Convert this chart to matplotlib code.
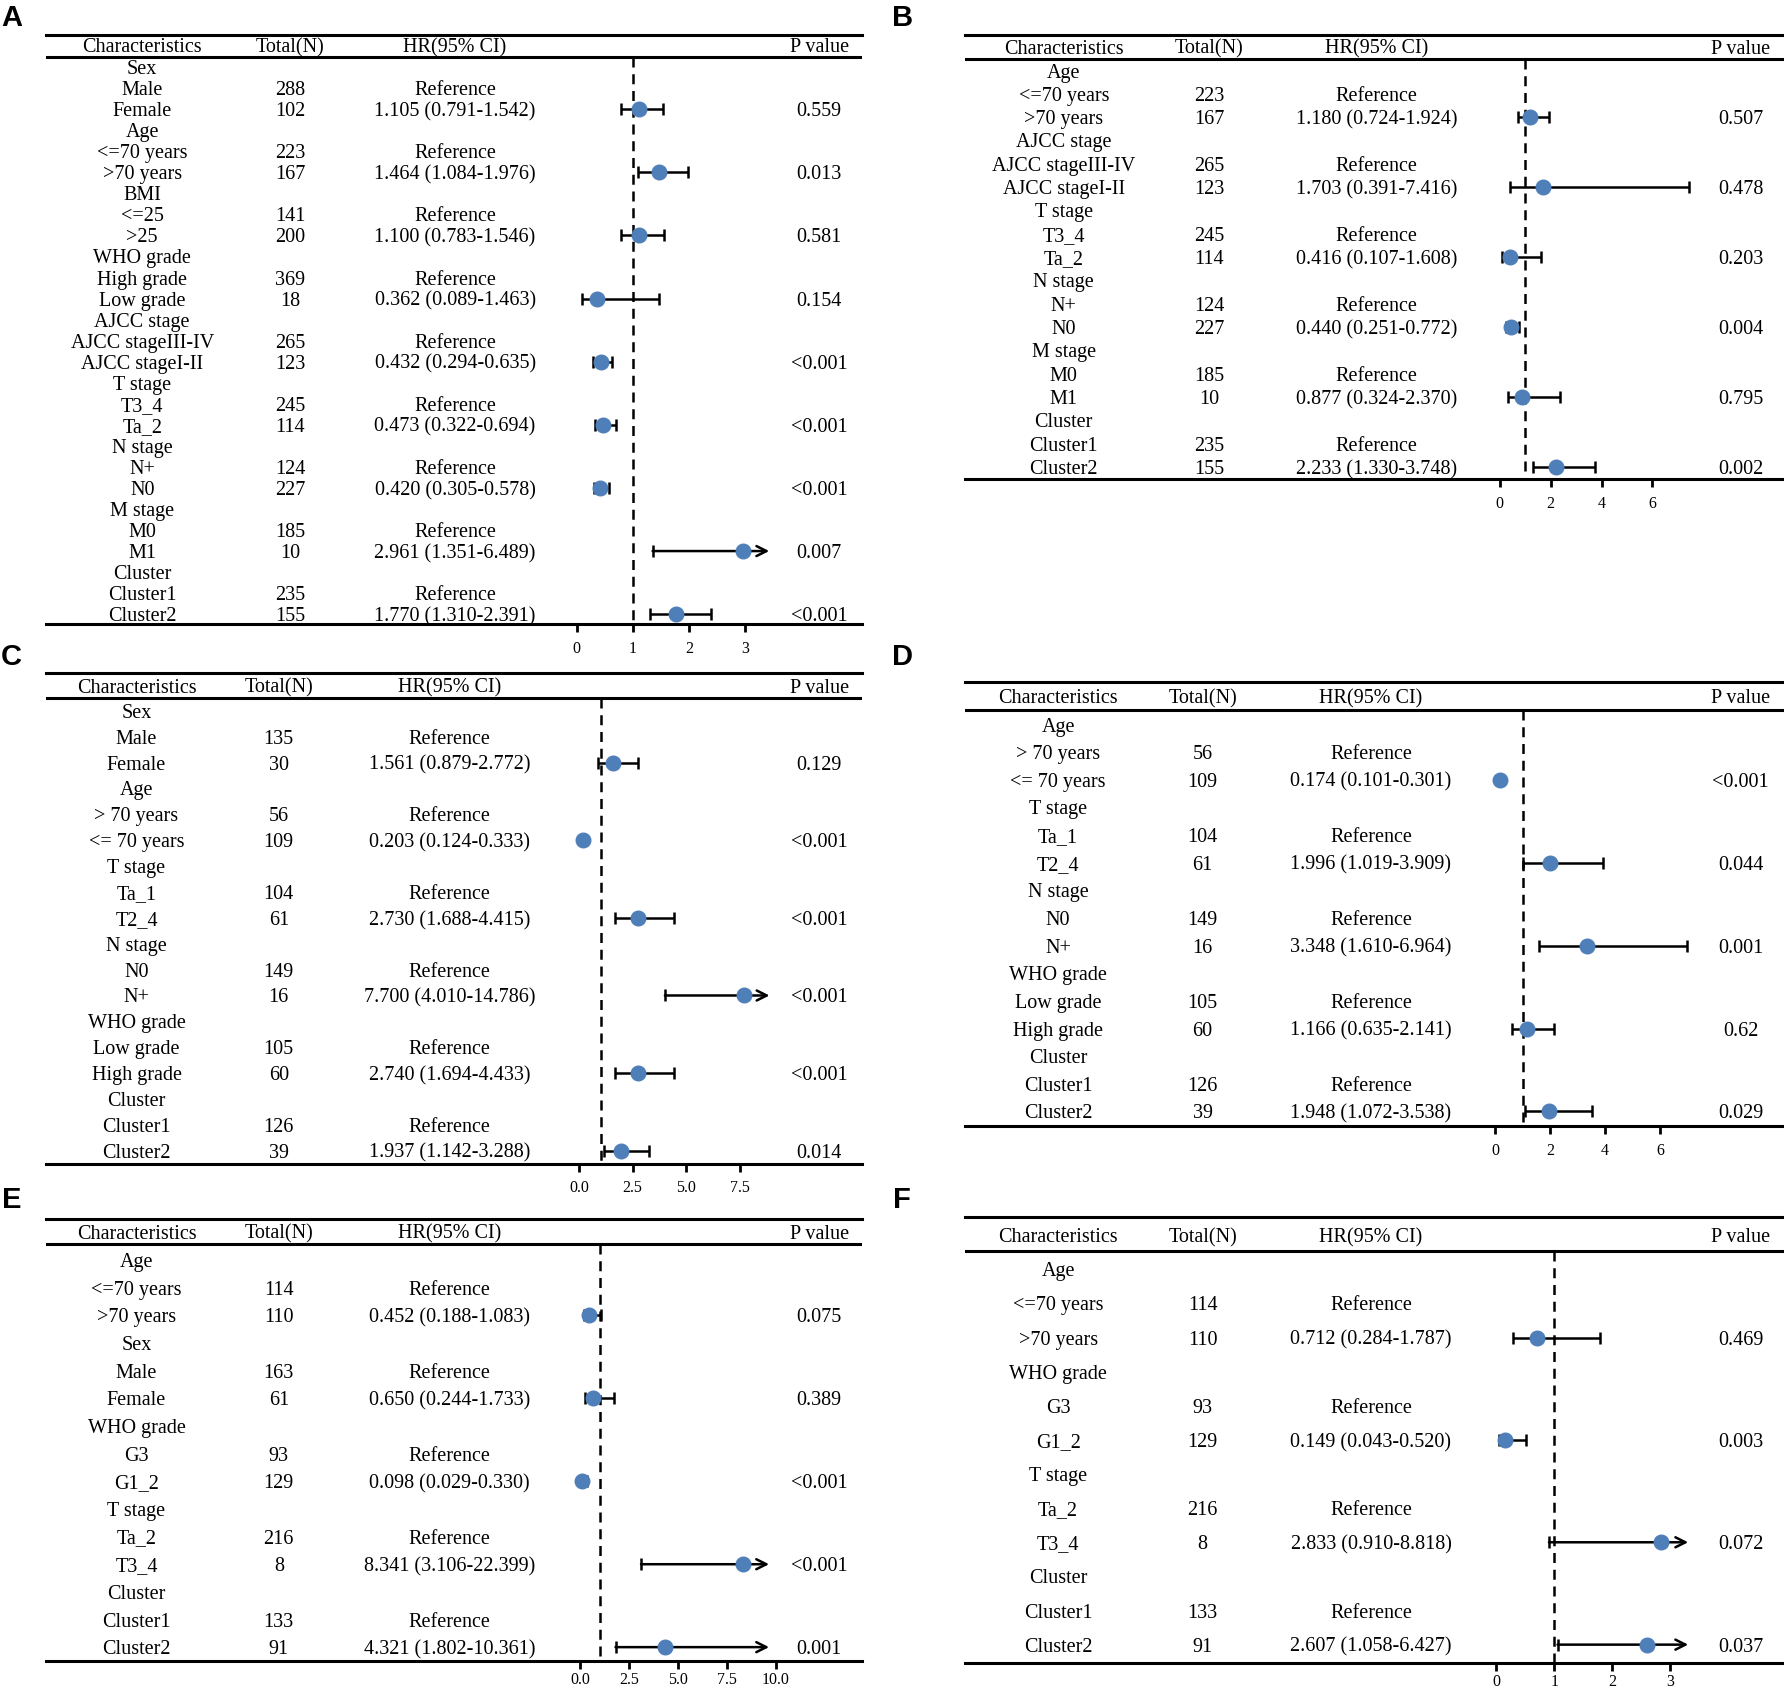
import matplotlib
matplotlib.use("Agg")
import matplotlib.pyplot as plt

plt.rcParams['font.family'] = ['Liberation Serif', 'DejaVu Serif']

# ---- data ----
# Panel A
a_groups = ["Sex", "Age", "BMI", "WHO grade", "AJCC stage", "T stage", "N stage", "M stage", "Cluster"]
a_ref = ["Male", "<=70 years", "<=25", "High grade", "AJCC stageIII-IV", "T3_4", "N+", "M0", "Cluster1"]
a_ref_n = [288, 223, 141, 369, 265, 245, 124, 185, 235]
a_cmp = ["Female", ">70 years", ">25", "Low grade", "AJCC stageI-II", "Ta_2", "N0", "M1", "Cluster2"]
a_cmp_n = [102, 167, 200, 18, 123, 114, 227, 10, 155]
a_hr = [1.105, 1.464, 1.100, 0.362, 0.432, 0.473, 0.420, 2.961, 1.770]
a_lo = [0.791, 1.084, 0.783, 0.089, 0.294, 0.322, 0.305, 1.351, 1.310]
a_hi = [1.542, 1.976, 1.546, 1.463, 0.635, 0.694, 0.578, 6.489, 2.391]
a_p = ["0.559", "0.013", "0.581", "0.154", "<0.001", "<0.001", "<0.001", "0.007", "<0.001"]
a_ticks = [0, 1, 2, 3]
a_ticklabels = ["0", "1", "2", "3"]

# Panel B
b_groups = ["Age", "AJCC stage", "T stage", "N stage", "M stage", "Cluster"]
b_ref = ["<=70 years", "AJCC stageIII-IV", "T3_4", "N+", "M0", "Cluster1"]
b_ref_n = [223, 265, 245, 124, 185, 235]
b_cmp = [">70 years", "AJCC stageI-II", "Ta_2", "N0", "M1", "Cluster2"]
b_cmp_n = [167, 123, 114, 227, 10, 155]
b_hr = [1.180, 1.703, 0.416, 0.440, 0.877, 2.233]
b_lo = [0.724, 0.391, 0.107, 0.251, 0.324, 1.330]
b_hi = [1.924, 7.416, 1.608, 0.772, 2.370, 3.748]
b_p = ["0.507", "0.478", "0.203", "0.004", "0.795", "0.002"]
b_ticks = [0, 2, 4, 6]
b_ticklabels = ["0", "2", "4", "6"]

# Panel C
c_groups = ["Sex", "Age", "T stage", "N stage", "WHO grade", "Cluster"]
c_ref = ["Male", "> 70 years", "Ta_1", "N0", "Low grade", "Cluster1"]
c_ref_n = [135, 56, 104, 149, 105, 126]
c_cmp = ["Female", "<= 70 years", "T2_4", "N+", "High grade", "Cluster2"]
c_cmp_n = [30, 109, 61, 16, 60, 39]
c_hr = [1.561, 0.203, 2.730, 7.700, 2.740, 1.937]
c_lo = [0.879, 0.124, 1.688, 4.010, 1.694, 1.142]
c_hi = [2.772, 0.333, 4.415, 14.786, 4.433, 3.288]
c_p = ["0.129", "<0.001", "<0.001", "<0.001", "<0.001", "0.014"]
c_ticks = [0, 2.5, 5, 7.5]
c_ticklabels = ["0.0", "2.5", "5.0", "7.5"]

# Panel D
d_groups = ["Age", "T stage", "N stage", "WHO grade", "Cluster"]
d_ref = ["> 70 years", "Ta_1", "N0", "Low grade", "Cluster1"]
d_ref_n = [56, 104, 149, 105, 126]
d_cmp = ["<= 70 years", "T2_4", "N+", "High grade", "Cluster2"]
d_cmp_n = [109, 61, 16, 60, 39]
d_hr = [0.174, 1.996, 3.348, 1.166, 1.948]
d_lo = [0.101, 1.019, 1.610, 0.635, 1.072]
d_hi = [0.301, 3.909, 6.964, 2.141, 3.538]
d_p = ["<0.001", "0.044", "0.001", "0.62", "0.029"]
d_ticks = [0, 2, 4, 6]
d_ticklabels = ["0", "2", "4", "6"]

# Panel E
e_groups = ["Age", "Sex", "WHO grade", "T stage", "Cluster"]
e_ref = ["<=70 years", "Male", "G3", "Ta_2", "Cluster1"]
e_ref_n = [114, 163, 93, 216, 133]
e_cmp = [">70 years", "Female", "G1_2", "T3_4", "Cluster2"]
e_cmp_n = [110, 61, 129, 8, 91]
e_hr = [0.452, 0.650, 0.098, 8.341, 4.321]
e_lo = [0.188, 0.244, 0.029, 3.106, 1.802]
e_hi = [1.083, 1.733, 0.330, 22.399, 10.361]
e_p = ["0.075", "0.389", "<0.001", "<0.001", "0.001"]
e_ticks = [0, 2.5, 5, 7.5, 10]
e_ticklabels = ["0.0", "2.5", "5.0", "7.5", "10.0"]

# Panel F
f_groups = ["Age", "WHO grade", "T stage", "Cluster"]
f_ref = ["<=70 years", "G3", "Ta_2", "Cluster1"]
f_ref_n = [114, 93, 216, 133]
f_cmp = [">70 years", "G1_2", "T3_4", "Cluster2"]
f_cmp_n = [110, 129, 8, 91]
f_hr = [0.712, 0.149, 2.833, 2.607]
f_lo = [0.284, 0.043, 0.910, 1.058]
f_hi = [1.787, 0.520, 8.818, 6.427]
f_p = ["0.469", "0.003", "0.072", "0.037"]
f_ticks = [0, 1, 2, 3]
f_ticklabels = ["0", "1", "2", "3"]

BLUE = "#4f7fb9"
W, H = 1568.0, 1485.0   # layout measured on a 1568 x 1485 grid

fig = plt.figure(figsize=(17.84, 16.89), dpi=100)


def forest(letter, groups, ref, ref_n, cmp, cmp_n, hr, lo, hi, pv,
           ticks, ticklabels, lay):
    """Draw one forest-plot table; lay holds the panel's pixel layout"""
    x0, x1, top, hdr, hrule, row0, pitch, bot, px0, ppu, cols, clip, lab, pad = lay
    ax = fig.add_axes([x0 / W, 1 - bot / H, (x1 - x0) / W, (bot - top) / H])
    ax.set_xlim((x0 - px0) / ppu, (x1 - px0) / ppu)
    ax.set_ylim(-(bot - row0) / pitch, (row0 - top) / pitch)
    for s in ['left', 'right']:
        ax.spines[s].set_visible(False)
    for s in ['top', 'bottom']:
        ax.spines[s].set_linewidth(2.2)
    ax.set_yticks([])
    ax.set_xticks(ticks)
    ax.set_xticklabels(ticklabels, fontsize=11.5)
    ax.tick_params(axis='x', direction='out', length=6, width=2, pad=pad)

    cx = [(c - px0) / ppu for c in cols]
    y_hdr = (row0 - hdr) / pitch
    y_rule = (row0 - hrule) / pitch
    ax.axhline(y_rule, color='k', lw=2.2)
    heads = ["Characteristics", "Total(N)", "HR(95% CI)", "P value"]
    fs = 14.5
    va = 'center_baseline'
    for x, t in zip(cx, heads):
        ax.text(x, y_hdr, t, ha='center', va=va, fontsize=fs)

    ax.plot([1, 1], [y_rule, ax.get_ylim()[0]], color='k', lw=1.8,
            ls=(0, (4, 2.7)), zorder=1)

    for i in range(len(groups)):
        yg, yr, yc = -3 * i, -3 * i - 1, -3 * i - 2
        ax.text(cx[0], yg, groups[i], ha='center', va=va, fontsize=fs)
        ax.text(cx[0], yr, ref[i], ha='center', va=va, fontsize=fs)
        ax.text(cx[1], yr, str(ref_n[i]), ha='center', va=va, fontsize=fs)
        ax.text(cx[2], yr, "Reference", ha='center', va=va, fontsize=fs)
        ax.text(cx[0], yc, cmp[i], ha='center', va=va, fontsize=fs)
        ax.text(cx[1], yc, str(cmp_n[i]), ha='center', va=va, fontsize=fs)
        ax.text(cx[2], yc, "%.3f (%.3f-%.3f)" % (hr[i], lo[i], hi[i]),
                ha='center', va=va, fontsize=fs)
        ax.text(cx[3], yc, pv[i], ha='center', va=va, fontsize=fs)

        if hi[i] > clip:
            ax.annotate('', xy=(clip, yc), xytext=(lo[i], yc),
                        arrowprops=dict(arrowstyle='->', lw=1.8, color='k',
                                        mutation_scale=18, shrinkA=0, shrinkB=0))
            ax.plot([lo[i]], [yc], marker='|', ms=8, mew=1.8, color='k')
        else:
            ax.errorbar(hr[i], yc, xerr=[[hr[i] - lo[i]], [hi[i] - hr[i]]],
                        fmt='none', ecolor='k', elinewidth=1.8, capsize=4,
                        capthick=1.8)
        ax.plot(hr[i], yc, 'o', color=BLUE, ms=10.5, zorder=4)

    fig.text(lab[0] / W, 1 - lab[1] / H, letter, fontsize=21, fontweight='bold',
             family='Liberation Sans', ha='center', va='center')


forest("A", a_groups, a_ref, a_ref_n, a_cmp, a_cmp_n, a_hr, a_lo, a_hi, a_p,
       a_ticks, a_ticklabels,
       (40, 758, 31, 40, 50, 59, 18.5, 549, 507, 49.3, [125, 255, 400, 720], 3.43, (10, 16), 6))
forest("B", b_groups, b_ref, b_ref_n, b_cmp, b_cmp_n, b_hr, b_lo, b_hi, b_p,
       b_ticks, b_ticklabels,
       (848, 1568, 31, 41, 52, 62, 20.5, 421, 1318, 22.4, [935, 1063, 1210, 1530], 8.0, (793, 16), 6))
forest("C", c_groups, c_ref, c_ref_n, c_cmp, c_cmp_n, c_hr, c_lo, c_hi, c_p,
       c_ticks, c_ticklabels,
       (40, 758, 592, 603, 614, 625, 22.75, 1023, 509, 18.8, [120, 245, 395, 720], 8.9, (10, 578), 6))
forest("D", d_groups, d_ref, d_ref_n, d_cmp, d_cmp_n, d_hr, d_lo, d_hi, d_p,
       d_ticks, d_ticklabels,
       (848, 1568, 600, 612, 624, 637, 24.3, 990, 1314, 24.2, [930, 1057, 1205, 1530], 7.5, (793, 578), 6))
forest("E", e_groups, e_ref, e_ref_n, e_cmp, e_cmp_n, e_hr, e_lo, e_hi, e_p,
       e_ticks, e_ticklabels,
       (40, 758, 1072, 1083, 1094, 1108, 24.3, 1460, 510, 17.2, [120, 245, 395, 720], 9.65, (10, 1055), 2))
forest("F", f_groups, f_ref, f_ref_n, f_cmp, f_cmp_n, f_hr, f_lo, f_hi, f_p,
       f_ticks, f_ticklabels,
       (848, 1568, 1070, 1086, 1100, 1116, 30, 1462, 1315, 51, [930, 1057, 1205, 1530], 3.31, (793, 1055), 2))

fig.savefig("out.png", dpi=100)
